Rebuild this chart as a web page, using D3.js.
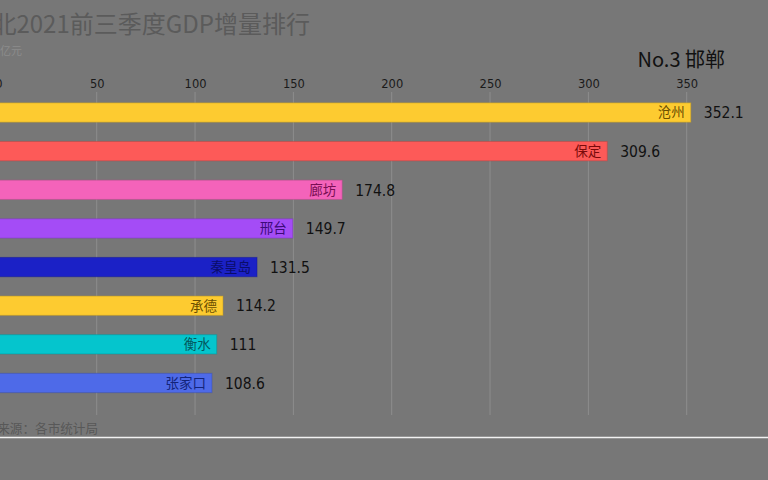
<!DOCTYPE html>
<html><head><meta charset="utf-8">
<script src="https://cdn.jsdelivr.net/npm/d3@7"></script>
<style>html,body{margin:0;padding:0;background:#777777;overflow:hidden}</style>
</head><body>
<svg id="c" width="768" height="480"></svg>
<script>
const cities = ["沧州","保定","廊坊","邢台","秦皇岛","承德","衡水","张家口"];
const values = [352.1, 309.6, 174.8, 149.7, 131.5, 114.2, 111, 108.6];
const colors = ["#fdcb30","#fd5a58","#f463ba","#a44cf6","#1b21c6","#fdcb30","#05c5cd","#4e6ae8"];
const labelColors = ["#6b4f00","#7a0a0a","#7a0f55","#3c0a78","#0a0d6a","#6b4f00","#03585c","#13247a"];
const ticks = [0,50,100,150,200,250,300,350];
const title = "河北2021前三季度GDP增量排行";
const unit = "单位：亿元";
const source = "数据来源：各市统计局";
const current = "No.3 邯郸";

const svg = d3.select("#c");
const font = "'Noto Sans CJK SC','Noto Sans',sans-serif";
svg.append("rect").attr("width",768).attr("height",480).attr("fill","#777777");

const x = d3.scaleLinear().domain([0,350]).range([-1.6,686.7]);
const y = d3.scaleBand().domain(cities).range([93.2,402.3]).paddingInner(0.5).paddingOuter(0.25);

// grid
const g = svg.append("g");
g.selectAll("line.grid").data(ticks).join("line")
  .attr("x1",d=>x(d)).attr("x2",d=>x(d)).attr("y1",92).attr("y2",415)
  .attr("stroke","#8e8e8e").attr("stroke-width",1);

// axis
const axis = d3.axisTop(x).tickValues(ticks).tickSize(0).tickPadding(0);
const ag = svg.append("g").attr("transform","translate(0,88)").call(axis);
ag.select(".domain").remove();
ag.selectAll("text").attr("font-family","'DejaVu Sans',sans-serif").attr("font-size",11.5).attr("fill","#1a1a1a").attr("dy",0);

// bars
const bars = svg.append("g");
bars.selectAll("rect").data(cities).join("rect")
  .attr("x",x(0)).attr("y",d=>y(d))
  .attr("width",(d,i)=>x(values[i])-x(0)).attr("height",y.bandwidth())
  .attr("fill",(d,i)=>colors[i])
  .attr("stroke",(d,i)=>d3.color(colors[i]).darker(0.8)).attr("stroke-opacity",0.5).attr("stroke-width",1);

bars.selectAll("text.name").data(cities).join("text").attr("class","name")
  .attr("x",(d,i)=>x(values[i])-6).attr("y",d=>y(d)+y.bandwidth()/2)
  .attr("dy","0.36em").attr("text-anchor","end")
  .attr("font-family",font).attr("font-size",13.5).attr("fill",(d,i)=>labelColors[i])
  .text(d=>d);

bars.selectAll("text.val").data(cities).join("text").attr("class","val")
  .attr("x",(d,i)=>x(values[i])+13).attr("y",d=>y(d)+y.bandwidth()/2)
  .attr("dy","0.37em").attr("text-anchor","start")
  .attr("font-family","'DejaVu Sans Condensed','DejaVu Sans',sans-serif").attr("font-size",15.5).attr("fill","#111")
  .text((d,i)=>values[i]);

// title
svg.append("text").attr("x",310).attr("y",33).attr("text-anchor","end")
  .attr("font-family",font).attr("font-size",24).attr("fill","#5b5b5b").text(title);
svg.append("text").attr("x",22).attr("y",55).attr("text-anchor","end")
  .attr("font-family",font).attr("font-size",11).attr("fill","#8c8c8c").text(unit);
svg.append("text").attr("x",725).attr("y",67).attr("text-anchor","end")
  .attr("font-family",font).attr("font-size",20).attr("fill","#111").text(current);

// footer
svg.append("text").attr("x",98).attr("y",433).attr("text-anchor","end")
  .attr("font-family",font).attr("font-size",12.6).attr("fill","#585858").text(source);
svg.append("line").attr("x1",0).attr("x2",768).attr("y1",437.5).attr("y2",437.5)
  .attr("stroke","#f2f2f2").attr("stroke-width",1.6);
</script>
</body></html>
